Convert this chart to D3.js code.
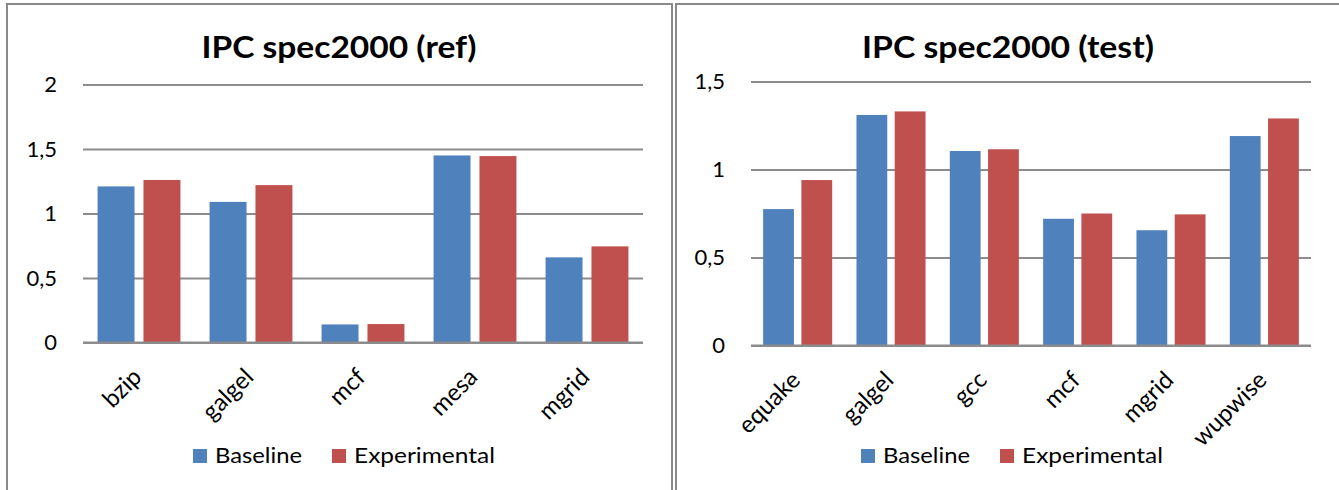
<!DOCTYPE html>
<html>
<head>
<meta charset="utf-8">
<script src="https://cdn.jsdelivr.net/npm/d3@7"></script>
<style>
  html, body { margin: 0; padding: 0; background: #fff; }
  svg { display: block; }
  text { font-family: Lato, "Open Sans", sans-serif; fill: #000; }
</style>
</head>
<body>
<svg id="chart" width="1339" height="490"></svg>
<script>
// IPC per benchmark, reference inputs
const refCategories = ["bzip", "galgel", "mcf", "mesa", "mgrid"];
const refBaseline = [1.21, 1.09, 0.14, 1.45, 0.66];
const refExperimental = [1.26, 1.22, 0.143, 1.445, 0.745];
const refTicks = [0, 0.5, 1, 1.5, 2];

// IPC per benchmark, test inputs
const testCategories = ["equake", "galgel", "gcc", "mcf", "mgrid", "wupwise"];
const testBaseline = [0.775, 1.31, 1.105, 0.72, 0.655, 1.19];
const testExperimental = [0.94, 1.33, 1.115, 0.75, 0.745, 1.29];
const testTicks = [0, 0.5, 1, 1.5];

const seriesNames = ["Baseline", "Experimental"];
const seriesColors = ["#4F81BD", "#C0504D"];

const fmt = d3.formatLocale({ decimal: ",", thousands: ".", grouping: [3], currency: ["", ""] }).format("~g");

const svg = d3.select("#chart");

function drawPanel(opt) {
  const g = svg.append("g");

  // panel frame
  g.append("path")
    .attr("d", `M${opt.frame.x0},${opt.frame.y1} V${opt.frame.y0} H${opt.frame.x1}` + (opt.frame.closeRight ? ` V${opt.frame.y1}` : ""))
    .attr("fill", "none")
    .attr("stroke", "#8a8a8a")
    .attr("stroke-width", 2);

  const x = d3.scaleBand().domain(opt.categories).range([opt.left, opt.right]).padding(0);
  const y = d3.scaleLinear().domain([0, d3.max(opt.ticks)]).range([opt.bottom, opt.top]);
  const inner = d3.scaleBand().domain(seriesNames)
    .range([x.bandwidth() * 0.13, x.bandwidth() * 0.87])
    .paddingInner(0.195).paddingOuter(0);

  // gridlines
  const yAxis = d3.axisLeft(y).tickValues(opt.ticks).tickFormat(fmt)
    .tickSize(-(opt.right - opt.left)).tickPadding(26);
  const ya = g.append("g").attr("transform", `translate(${opt.left},0)`).call(yAxis);
  ya.select(".domain").remove();
  ya.selectAll(".tick line").attr("stroke", "#8c8c8c").attr("stroke-width", 2);
  ya.selectAll(".tick text").style("font-size", "22px").attr("fill", "#000")
    .style("font-family", "Lato, sans-serif");

  // bars
  const rows = opt.categories.map((c, i) => ({ c, vals: [opt.baseline[i], opt.experimental[i]] }));
  const grp = g.selectAll(".cat").data(rows).join("g")
    .attr("transform", d => `translate(${x(d.c)},0)`);
  grp.selectAll("rect").data(d => d.vals.map((v, k) => ({ v, s: seriesNames[k], k })))
    .join("rect")
    .attr("x", d => inner(d.s))
    .attr("width", inner.bandwidth())
    .attr("y", d => y(d.v))
    .attr("height", d => y(0) - y(d.v))
    .attr("fill", d => seriesColors[d.k]);

  // baseline axis drawn over bars
  g.append("line")
    .attr("x1", opt.left).attr("x2", opt.right)
    .attr("y1", y(0)).attr("y2", y(0))
    .attr("stroke", "#8c8c8c").attr("stroke-width", 2);

  // rotated category labels
  const xAxis = d3.axisBottom(x).tickSize(0).tickPadding(0);
  const xa = g.append("g").attr("transform", `translate(0,${y(0)})`).call(xAxis);
  xa.select(".domain").remove();
  xa.selectAll(".tick text")
    .style("font-size", "24px").style("font-family", "Lato, sans-serif")
    .attr("fill", "#000")
    .attr("text-anchor", "end")
    .attr("dy", null)
    .attr("transform", "translate(4,36) rotate(-45)");

  // title
  g.append("text")
    .attr("x", opt.titleX).attr("y", 58)
    .attr("text-anchor", "middle")
    .style("font-size", "31px").style("font-weight", 700)
    .attr("textLength", opt.titleW).attr("lengthAdjust", "spacingAndGlyphs")
    .text(opt.title);

  // legend
  const lg = g.append("g").attr("transform", `translate(${opt.legendX},0)`);
  const items = [
    { name: seriesNames[0], color: seriesColors[0], sq: 0, tx: 22, w: 87 },
    { name: seriesNames[1], color: seriesColors[1], sq: 139, tx: 161, w: 141 }
  ];
  items.forEach(it => {
    lg.append("rect").attr("x", it.sq).attr("y", 449).attr("width", 14).attr("height", 14).attr("fill", it.color);
    lg.append("text").attr("x", it.tx).attr("y", 463)
      .style("font-size", "21.5px")
      .attr("textLength", it.w).attr("lengthAdjust", "spacingAndGlyphs")
      .text(it.name);
  });
}

drawPanel({
  categories: refCategories, baseline: refBaseline, experimental: refExperimental, ticks: refTicks,
  left: 83, right: 643, top: 84.5, bottom: 342.5,
  title: "IPC spec2000 (ref)", titleX: 339, titleW: 275,
  legendX: 193,
  frame: { x0: 7, y0: 4, x1: 672, y1: 500, closeRight: true }
});

drawPanel({
  categories: testCategories, baseline: testBaseline, experimental: testExperimental, ticks: testTicks,
  left: 751, right: 1311, top: 81.5, bottom: 345.5,
  title: "IPC spec2000 (test)", titleX: 1008, titleW: 292,
  legendX: 861,
  frame: { x0: 676, y0: 4, x1: 1345, y1: 500, closeRight: false }
});
</script>
</body>
</html>
